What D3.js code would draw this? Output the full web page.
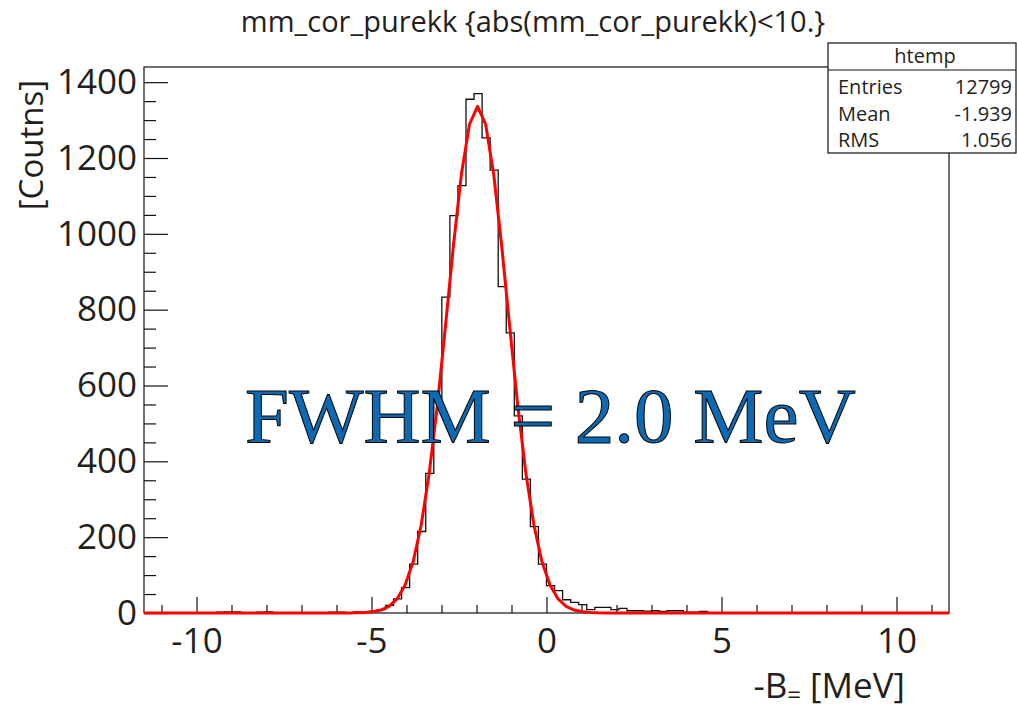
<!DOCTYPE html>
<html>
<head>
<meta charset="utf-8">
<script src="https://cdn.jsdelivr.net/npm/d3@7"></script>
<style>
  body { margin: 0; background: #fff; }
  svg { display: block; }
  text { font-family: "Open Sans", "Noto Sans", sans-serif; fill: #231f20; }
</style>
</head>
<body>
<svg id="vis" width="1017" height="710"></svg>
<script>
/**
 * Histogram data (htemp), 100 bins from -11.5 to 11.5
 */
var binLow = -11.5;
var binWidth = 0.23;
var counts = [
    0, 0, 0, 0, 0, 0, 0, 0, 0, 2,
    3, 3, 0, 0, 2, 3, 0, 0, 0, 0,
    0, 0, 0, 2, 2, 0, 3, 3, 4, 9,
    20, 37, 67, 129, 215, 368, 557, 833, 1048, 1127,
    1355, 1370, 1253, 1168, 861, 739, 520, 353, 228, 129,
    72, 59, 35, 28, 22, 9, 15, 15, 9, 12,
    6, 6, 5, 6, 4, 6, 6, 2, 2, 4,
    1, 0, 1, 0, 0, 0, 0, 0, 0, 0,
    0, 0, 0, 0, 0, 0, 0, 0, 0, 0,
    0, 0, 0, 0, 0, 0, 0, 0, 0, 0
];

// gaussian fit curve
var fitX = [-11.5, -5.65, -5.42, -5.19, -4.96, -4.73, -4.5, -4.27, -4.04, -3.81,
    -3.58, -3.35, -3.12, -2.89, -2.66, -2.43, -2.2, -1.97, -1.74, -1.51,
    -1.28, -1.05, -0.82, -0.59, -0.36, -0.13, 0.1, 0.33, 0.56, 0.79,
    1.02, 1.25, 1.48, 1.71, 11.5];
var fitY = [0, 0.1, 0.4, 1.2, 3.2, 7.7, 17.6, 37, 74, 135,
    232, 369, 546, 754, 968, 1158, 1289, 1336, 1289, 1158,
    968, 754, 546, 369, 232, 135, 74, 37, 17.6, 7.7,
    3.2, 1.2, 0.4, 0.1, 0];

var xMajorTicks = [-10, -5, 0, 5, 10];
var xMinorTicks = [-11, -9, -8, -7, -6, -4, -3, -2, -1, 1, 2, 3, 4, 6, 7, 8, 9, 11];
var yMajorTicks = [0, 200, 400, 600, 800, 1000, 1200, 1400];
var yMinorTicks = [50, 100, 150, 250, 300, 350, 450, 500, 550, 650, 700, 750,
    850, 900, 950, 1050, 1100, 1150, 1250, 1300, 1350];

var statNames = ["Entries", "Mean", "RMS"];
var statValues = ["12799", "-1.939", "1.056"];

var titleText = "mm_cor_purekk {abs(mm_cor_purekk)<10.}";
var xDomain = [-11.5, 11.5];
var yDomain = [0, 1440];

const FRAME = { left: 144, right: 949, top: 67, bottom: 613 };

var svg, xScale, yScale;

window.onload = function(){
    setup();
};

function setup(){
    svg = d3.select("#vis");
    xScale = d3.scaleLinear().domain(xDomain).range([FRAME.left, FRAME.right]);
    yScale = d3.scaleLinear().domain(yDomain).range([FRAME.bottom, FRAME.top]);

    drawFrame();
    drawAxes();
    drawHistogram();
    drawFit();
    drawTexts();
    drawStats();
}

function drawFrame(){
    svg.append("rect")
        .attr("x", FRAME.left)
        .attr("y", FRAME.top)
        .attr("width", FRAME.right - FRAME.left)
        .attr("height", FRAME.bottom - FRAME.top)
        .style("fill", "none")
        .style("stroke", "#111")
        .style("stroke-width", 1.2);
}

function drawAxes(){
    //x axis: ticks point up into the frame
    var gx = svg.append("g").attr("transform", `translate(0, ${FRAME.bottom})`);
    gx.call(d3.axisBottom(xScale).tickValues(xMajorTicks).tickSize(-16).tickPadding(15)
        .tickFormat(function(d){ return d < 0 ? "-" + Math.abs(d) : d; }));
    var gxm = svg.append("g").attr("transform", `translate(0, ${FRAME.bottom})`);
    gxm.call(d3.axisBottom(xScale).tickValues(xMinorTicks).tickSize(-8).tickFormat(""));

    //y axis
    var gy = svg.append("g").attr("transform", `translate(${FRAME.left}, 0)`);
    gy.call(d3.axisLeft(yScale).tickValues(yMajorTicks).tickSize(-24).tickPadding(7)
        .tickFormat(d3.format("d")));
    var gym = svg.append("g").attr("transform", `translate(${FRAME.left}, 0)`);
    gym.call(d3.axisLeft(yScale).tickValues(yMinorTicks).tickSize(-12).tickFormat(""));

    svg.selectAll(".domain").remove();
    svg.selectAll(".tick line").style("stroke", "#111").style("stroke-width", 1.2);
    svg.selectAll(".tick text")
        .style("font-family", "'Open Sans', sans-serif")
        .style("font-size", "35px")
        .style("fill", "#231f20");
}

function drawHistogram(){
    var pts = [[binLow, 0]];
    counts.forEach(function(c, i){
        pts.push([binLow + i*binWidth, c]);
        pts.push([binLow + (i+1)*binWidth, c]);
    });
    pts.push([binLow + counts.length*binWidth, 0]);

    var line = d3.line()
        .x(function(d){ return xScale(d[0]); })
        .y(function(d){ return yScale(d[1]); });

    svg.append("path")
        .attr("d", line(pts))
        .style("fill", "none")
        .style("stroke", "#111")
        .style("stroke-width", 1.3);
}

function drawFit(){
    var line = d3.line()
        .x(function(d, i){ return xScale(fitX[i]); })
        .y(function(d){ return yScale(d); });

    svg.append("path")
        .attr("d", line(fitY))
        .style("fill", "none")
        .style("stroke", "#ff0000")
        .style("stroke-width", 3)
        .style("stroke-linejoin", "round");
}

function drawTexts(){
    //title
    svg.append("text")
        .attr("x", 533)
        .attr("y", 32)
        .style("text-anchor", "middle")
        .style("font-size", "29px")
        .text(titleText);

    //y title
    svg.append("text")
        .attr("transform", "translate(43, 80) rotate(-90)")
        .style("text-anchor", "end")
        .style("font-size", "33px")
        .text("[Coutns]");

    //x title with subscript
    var xt = svg.append("text")
        .attr("x", 905)
        .attr("y", 698)
        .style("text-anchor", "end")
        .style("font-size", "35px");
    xt.append("tspan").text("-B");
    xt.append("tspan").attr("dy", 5).style("font-size", "24px").text("=");
    xt.append("tspan").attr("dy", -5).text(" [MeV]");

    //FWHM label
    svg.append("text")
        .attr("x", 245)
        .attr("y", 442)
        .style("font-family", "'Liberation Serif', 'DejaVu Serif', serif")
        .style("font-size", "79px")
        .style("fill", "#0b6ab3")
        .style("stroke", "#000")
        .style("stroke-width", 1)
        .text("FWHM = 2.0 MeV");
}

function drawStats(){
    var box = { x: 828, y: 43, w: 188, h: 110, head: 27 };
    var g = svg.append("g");
    g.append("rect")
        .attr("x", box.x).attr("y", box.y)
        .attr("width", box.w).attr("height", box.h)
        .style("fill", "#fff")
        .style("stroke", "#111")
        .style("stroke-width", 1.2);
    g.append("line")
        .attr("x1", box.x).attr("x2", box.x + box.w)
        .attr("y1", box.y + box.head).attr("y2", box.y + box.head)
        .style("stroke", "#111")
        .style("stroke-width", 1.2);
    g.append("text")
        .attr("x", box.x + box.w/2 + 3)
        .attr("y", 63)
        .style("text-anchor", "middle")
        .style("font-size", "20px")
        .text("htemp");

    statNames.forEach(function(name, i){
        g.append("text")
            .attr("x", 838)
            .attr("y", 94 + i*26.5)
            .style("font-size", "20px")
            .text(name);
        g.append("text")
            .attr("x", 1012)
            .attr("y", 94 + i*26.5)
            .style("text-anchor", "end")
            .style("font-size", "20px")
            .text(statValues[i]);
    });
}
</script>
</body>
</html>
